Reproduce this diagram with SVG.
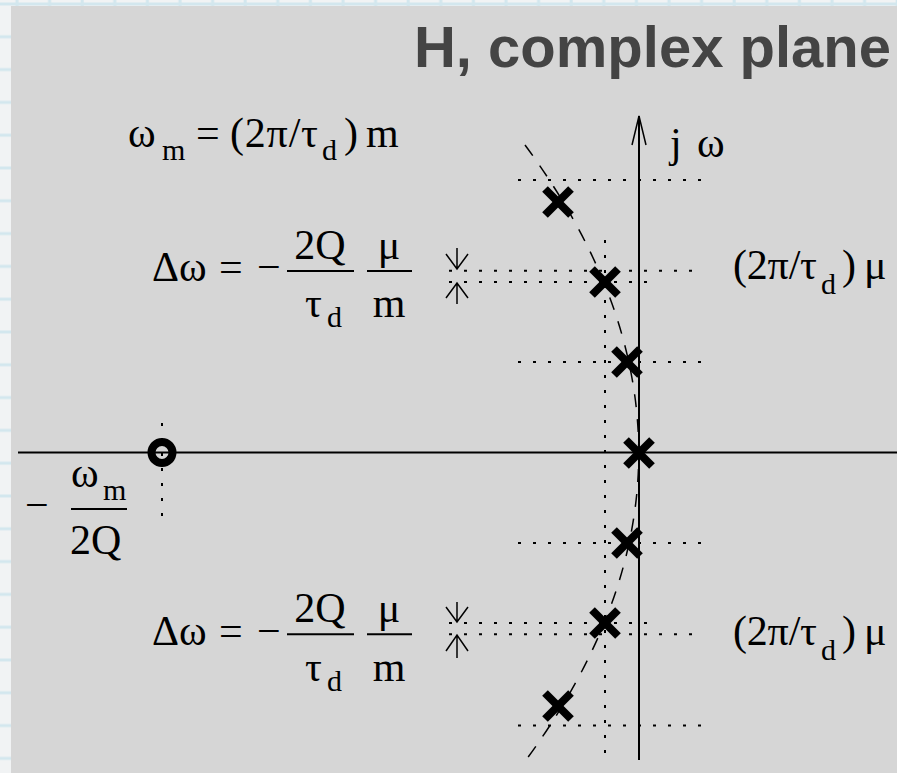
<svg xmlns="http://www.w3.org/2000/svg" width="897" height="773" viewBox="0 0 897 773">
<defs>
<style>
.t{font-family:"Liberation Serif","Times New Roman",serif;font-size:42px;fill:#000}
.s{font-size:30px}
.title{font-family:"Liberation Sans",Arial,sans-serif;font-weight:bold;font-size:58px;fill:#444}
.axis{stroke:#000;stroke-width:2;fill:none}
.dot{stroke:#000;stroke-width:2;stroke-dasharray:3 12;fill:none}
.bar{stroke:#000;stroke-width:2}
.pole{stroke:#000;stroke-width:8}
.curve{stroke:#000;stroke-width:1.5;stroke-dasharray:13 12;fill:none}
.arr{stroke:#000;stroke-width:1.5;fill:none}
</style>
<pattern id="grid" x="0" y="0" width="32.6" height="32.8" patternUnits="userSpaceOnUse">
<rect width="32.6" height="32.8" fill="#f1f3f4"/>
<line x1="17" y1="0" x2="17" y2="32.8" stroke="#d3e7ee" stroke-width="3"/>
<line x1="0" y1="4" x2="32.6" y2="4" stroke="#d3e7ee" stroke-width="3"/>
</pattern>
<g id="xmark"><line class="pole" x1="-13" y1="-13" x2="13" y2="13"/><line class="pole" x1="-13" y1="13" x2="13" y2="-13"/></g>
</defs>
<rect width="897" height="773" fill="url(#grid)"/>
<rect x="11" y="6" width="886" height="767" fill="#d6d6d6"/>
<text class="title" x="891" y="67" text-anchor="end">H, complex plane</text>

<g id="connectors">
<g id="dotted">
<line class="dot" x1="518" y1="180" x2="705" y2="180"/>
<line class="dot" x1="449" y1="270.7" x2="697" y2="270.7"/>
<line class="dot" x1="449" y1="282" x2="650" y2="282"/>
<line class="dot" x1="518" y1="362" x2="705" y2="362"/>
<line class="dot" x1="518" y1="543" x2="705" y2="543"/>
<line class="dot" x1="449" y1="623" x2="650" y2="623"/>
<line class="dot" x1="449" y1="634.3" x2="697" y2="634.3"/>
<line class="dot" x1="518" y1="725.5" x2="705" y2="725.5"/>
<line class="dot" x1="605" y1="240" x2="605" y2="760"/>
<line class="dot" x1="162" y1="423" x2="162" y2="517"/>
</g>
<g id="axes">
<line class="axis" x1="18" y1="452.5" x2="897" y2="452.5"/>
<line class="axis" x1="639" y1="116" x2="639" y2="760"/>
<path class="arr" d="M632,145 L639,116 L646,145"/>
</g>
<path id="locus" class="curve" d="M525,145 Q752,452.5 526,760"/>
<g id="spacing-arrows">
<path class="arr" d="M457,248 L457,269 M446,254 L457,269 L468,254"/>
<path class="arr" d="M457,304 L457,283 M446,298 L457,283 L468,298"/>
<path class="arr" d="M457,602 L457,622 M446,607 L457,622 L468,607"/>
<path class="arr" d="M457,658 L457,635 M446,651 L457,635 L468,651"/>
</g>
</g>

<g id="zero"><circle cx="162" cy="452.5" r="10.5" fill="none" stroke="#000" stroke-width="8"/></g>
<g id="pole1"><use href="#xmark" x="558" y="202"/></g>
<g id="pole2"><use href="#xmark" x="605" y="282"/></g>
<g id="pole3"><use href="#xmark" x="627" y="362"/></g>
<g id="pole4"><use href="#xmark" x="639" y="453"/></g>
<g id="pole5"><use href="#xmark" x="627" y="543"/></g>
<g id="pole6"><use href="#xmark" x="605" y="623"/></g>
<g id="pole7"><use href="#xmark" x="558" y="706"/></g>

<g id="label-jw"><text class="t" y="157"><tspan x="670">j</tspan><tspan x="697">ω</tspan></text></g>

<g id="label-wm">
<text class="t" y="147"><tspan x="128">ω</tspan><tspan class="s" x="162" y="160">m</tspan><tspan x="196" y="147">=</tspan><tspan x="230" textLength="88" lengthAdjust="spacing">(2π/τ</tspan><tspan class="s" x="322" y="160">d</tspan><tspan x="344" y="147">)</tspan><tspan x="366">m</tspan></text>
</g>

<g id="label-dw-upper">
<text class="t" y="281"><tspan x="152">Δω</tspan><tspan x="219">=</tspan><tspan x="257">−</tspan></text>
<line class="bar" x1="287" y1="271" x2="354" y2="271"/>
<line class="bar" x1="367" y1="271" x2="412" y2="271"/>
<text class="t" x="320" y="258.5" text-anchor="middle">2Q</text>
<text class="t" x="389" y="258.5" text-anchor="middle">μ</text>
<text class="t" y="317"><tspan x="305">τ</tspan><tspan class="s" x="327" y="327">d</tspan></text>
<text class="t" x="389" y="317" text-anchor="middle">m</text>
</g>

<g id="label-dw-lower">
<text class="t" y="644.5"><tspan x="152">Δω</tspan><tspan x="219">=</tspan><tspan x="257">−</tspan></text>
<line class="bar" x1="287" y1="634.3" x2="354" y2="634.3"/>
<line class="bar" x1="367" y1="634.3" x2="412" y2="634.3"/>
<text class="t" x="320" y="622" text-anchor="middle">2Q</text>
<text class="t" x="389" y="622" text-anchor="middle">μ</text>
<text class="t" y="680.5"><tspan x="305">τ</tspan><tspan class="s" x="327" y="690.5">d</tspan></text>
<text class="t" x="389" y="680.5" text-anchor="middle">m</text>
</g>

<g id="label-zero">
<text class="t" x="25" y="519">−</text>
<line class="bar" x1="71" y1="509" x2="127" y2="509"/>
<text class="t" y="487"><tspan x="71">ω</tspan><tspan class="s" x="103" y="500">m</tspan></text>
<text class="t" x="70" y="554">2Q</text>
</g>

<g id="label-mu-upper">
<text class="t" y="279"><tspan x="733" textLength="84" lengthAdjust="spacing">(2π/τ</tspan><tspan class="s" x="821" y="294">d</tspan><tspan x="842" y="279">)</tspan><tspan x="864">μ</tspan></text>
</g>
<g id="label-mu-lower">
<text class="t" y="645"><tspan x="733" textLength="84" lengthAdjust="spacing">(2π/τ</tspan><tspan class="s" x="821" y="660">d</tspan><tspan x="842" y="645">)</tspan><tspan x="864">μ</tspan></text>
</g>
</svg>
